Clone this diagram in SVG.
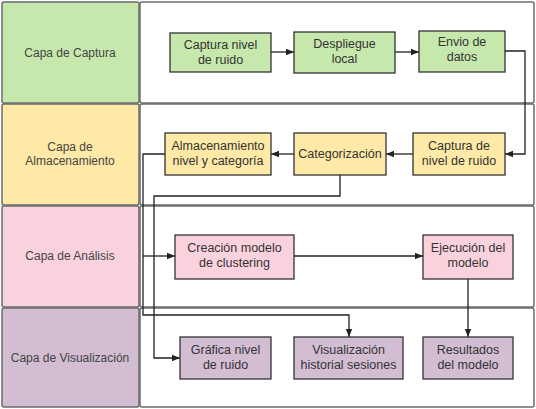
<svg xmlns="http://www.w3.org/2000/svg" width="536" height="409" viewBox="0 0 536 409">
<style>
.lane{stroke:#6b6b6b;stroke-width:1.5}
.panel{fill:#fff;stroke:#6b6b6b;stroke-width:1.5}
.node{stroke:#333;stroke-width:1.3}
.g{fill:#c7e8ad}
.y{fill:#ffe9a6}
.p{fill:#fad2dd}
.v{fill:#d2bdd3}
text{font-family:"Liberation Sans",Arial,sans-serif;font-size:12.5px;fill:#333;text-anchor:middle}
.lbl{font-size:12px;fill:#444}
.c{fill:none;stroke:#222;stroke-width:1.3}
</style>
<defs>
<marker id="ah" viewBox="0 0 10 10" refX="10" refY="5" markerWidth="8" markerHeight="8" markerUnits="userSpaceOnUse" orient="auto">
<path d="M0,1 L10,5 L0,9 z" fill="#222"/>
</marker>
</defs>
<g id="lanes">
<rect class="lane g" x="2" y="2" width="137" height="101" rx="2"/>
<rect class="panel" x="140" y="2" width="394" height="101" rx="2"/>
<rect class="lane y" x="2" y="104" width="137" height="101" rx="2"/>
<rect class="panel" x="140" y="104" width="394" height="101" rx="2"/>
<rect class="lane p" x="2" y="206" width="137" height="101" rx="2"/>
<rect class="panel" x="140" y="206" width="394" height="101" rx="2"/>
<rect class="lane v" x="2" y="308" width="137" height="99" rx="2"/>
<rect class="panel" x="140" y="308" width="394" height="99" rx="2"/>
<text class="lbl" x="70" y="57">Capa de Captura</text>
<text class="lbl" x="70" y="151">Capa de</text>
<text class="lbl" x="70" y="165">Almacenamiento</text>
<text class="lbl" x="70" y="260">Capa de Análisis</text>
<text class="lbl" x="70" y="362">Capa de Visualización</text>
</g>
<g id="connectors">
<path class="c" d="M271,52 H294" marker-end="url(#ah)"/>
<path class="c" d="M395,52 H419" marker-end="url(#ah)"/>
<path class="c" d="M505,51 H525 V154 H505" marker-end="url(#ah)"/>
<path class="c" d="M413,154 H386" marker-end="url(#ah)"/>
<path class="c" d="M294,154 H271" marker-end="url(#ah)"/>
<path class="c" d="M165,154 H143 V315 H349 V337" marker-end="url(#ah)"/>
<path class="c" d="M143,256 H175" marker-end="url(#ah)"/>
<path class="c" d="M340,175 V196 H154 V358 H180" marker-end="url(#ah)"/>
<path class="c" d="M294,256 H423" marker-end="url(#ah)"/>
<path class="c" d="M468,279 V337" marker-end="url(#ah)"/>
</g>
<g id="n1"><rect class="node g" x="170" y="33" width="101" height="39"/><text x="220.5" y="49">Captura nivel</text><text x="220.5" y="64">de ruido</text></g>
<g id="n2"><rect class="node g" x="294" y="32" width="101" height="41"/><text x="344.5" y="48">Despliegue</text><text x="344.5" y="63">local</text></g>
<g id="n3"><rect class="node g" x="419" y="31" width="86" height="41"/><text x="462" y="46">Envio de</text><text x="462" y="61">datos</text></g>
<g id="n4"><rect class="node y" x="413" y="133" width="92" height="42"/><text x="459" y="150">Captura de</text><text x="459" y="165">nivel de ruido</text></g>
<g id="n5"><rect class="node y" x="294" y="133" width="92" height="42"/><text x="340" y="158">Categorización</text></g>
<g id="n6"><rect class="node y" x="165" y="133" width="106" height="42"/><text x="218" y="150">Almacenamiento</text><text x="218" y="165">nivel y categoría</text></g>
<g id="n7"><rect class="node p" x="175" y="235" width="119" height="44"/><text x="234.5" y="252">Creación modelo</text><text x="234.5" y="267">de clustering</text></g>
<g id="n8"><rect class="node p" x="423" y="235" width="90" height="44"/><text x="468" y="252">Ejecución del</text><text x="468" y="267">modelo</text></g>
<g id="n9"><rect class="node v" x="180" y="337" width="91" height="42"/><text x="225.5" y="354">Gráfica nivel</text><text x="225.5" y="369">de ruido</text></g>
<g id="n10"><rect class="node v" x="294" y="337" width="109" height="42"/><text x="348.5" y="354">Visualización</text><text x="348.5" y="369">historial sesiones</text></g>
<g id="n11"><rect class="node v" x="423" y="337" width="90" height="42"/><text x="468" y="354">Resultados</text><text x="468" y="369">del modelo</text></g>
</svg>
